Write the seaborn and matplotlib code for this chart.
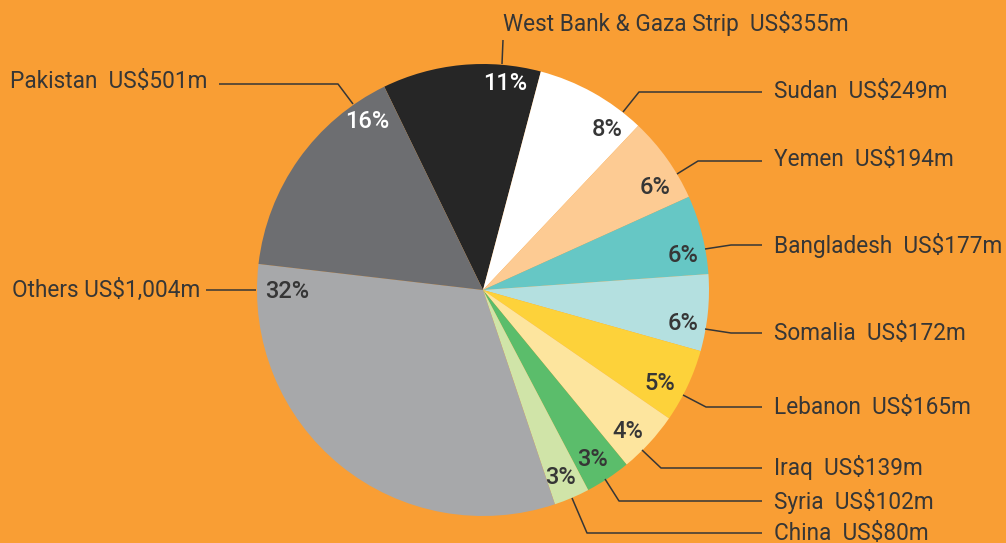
import matplotlib
matplotlib.use("Agg")
import matplotlib.pyplot as plt
import seaborn as sns

# ── data ──────────────────────────────────────────────────────────────────────
countries = ["West Bank & Gaza Strip", "Sudan", "Yemen", "Bangladesh", "Somalia",
             "Lebanon", "Iraq", "Syria", "China", "Others", "Pakistan"]
amounts = [355, 249, 194, 177, 172, 165, 139, 102, 80, 1004, 501]   # US$m
pct_labels = ["11%", "8%", "6%", "6%", "6%", "5%", "4%", "3%", "3%", "32%", "16%"]
colors = ["#262626", "#FFFFFF", "#FDCB93", "#66C7C5", "#B4E0E0", "#FDD23A",
          "#FDE59E", "#5BBD6B", "#D0E4A8", "#A7A8AA", "#6D6E71"]

BG = "#F99E34"
INK = "#363636"
W, H = 1006, 543
CX, CY, R = 483, 290, 226   # pie centre / radius in pixels (y down)

# layout (pixel coords, y down): percent label centres
pct_pos = [(505, 84), (607, 130), (655, 187), (683, 256), (683, 323), (660, 384),
           (628, 432), (593, 459), (561, 477), (287, 292), (367, 122)]
pct_color = ["white", INK, INK, INK, INK, INK, INK, INK, INK, INK, "white"]

# leader lines and name labels: (polyline points, text x, text y, ha)
leaders = [
    ([(502, 64), (503, 40)], 503, 24, "left"),
    ([(623, 112), (639, 92), (762, 92)], 774, 92, "left"),
    ([(677, 174), (698, 161), (762, 161)], 774, 160, "left"),
    ([(705, 249), (731, 245), (762, 245)], 774, 246, "left"),
    ([(705, 329), (731, 333), (762, 333)], 774, 333, "left"),
    ([(683, 395), (706, 407), (762, 407)], 774, 407, "left"),
    ([(642, 450), (661, 468), (762, 468)], 774, 468, "left"),
    ([(605, 479), (619, 501), (762, 501)], 774, 501, "left"),
    ([(572, 498), (587, 533), (762, 533)], 774, 533, "left"),
    ([(256, 290), (206, 290)], 200, 290, "right"),
    ([(353, 104), (338, 84), (219, 84)], 207, 82, "right"),
]


def Y(py):
    return H - py


sns.set_style("white")
plt.rcParams["font.family"] = ["Roboto", "DejaVu Sans"]

fig = plt.figure(figsize=(W / 100, H / 100), dpi=100, facecolor=BG)
ax = fig.add_axes([0, 0, 1, 1])
ax.set_facecolor(BG)

ax.pie(amounts, colors=colors, startangle=115.9, counterclock=False,
       center=(CX, Y(CY)), radius=R, wedgeprops=dict(linewidth=0))

for txt, (px, py), c in zip(pct_labels, pct_pos, pct_color):
    ax.text(px, Y(py), txt, ha="center", va="center", fontsize=17,
            fontweight="medium", color=c)

for name, amt, (pts, tx, ty, ha) in zip(countries, amounts, leaders):
    xs = [p[0] for p in pts]
    ys = [Y(p[1]) for p in pts]
    ax.plot(xs, ys, color=INK, lw=1.1, solid_capstyle="butt")
    sep = " " if name == "Others" else "  "
    ax.text(tx, Y(ty), f"{name}{sep}US${amt:,}m", ha=ha, va="center",
            fontsize=16.3, color=INK)

ax.set_xlim(0, W)
ax.set_ylim(0, H)
ax.set_aspect("auto")
ax.axis("off")

fig.savefig("out.png", dpi=100, facecolor=BG)
